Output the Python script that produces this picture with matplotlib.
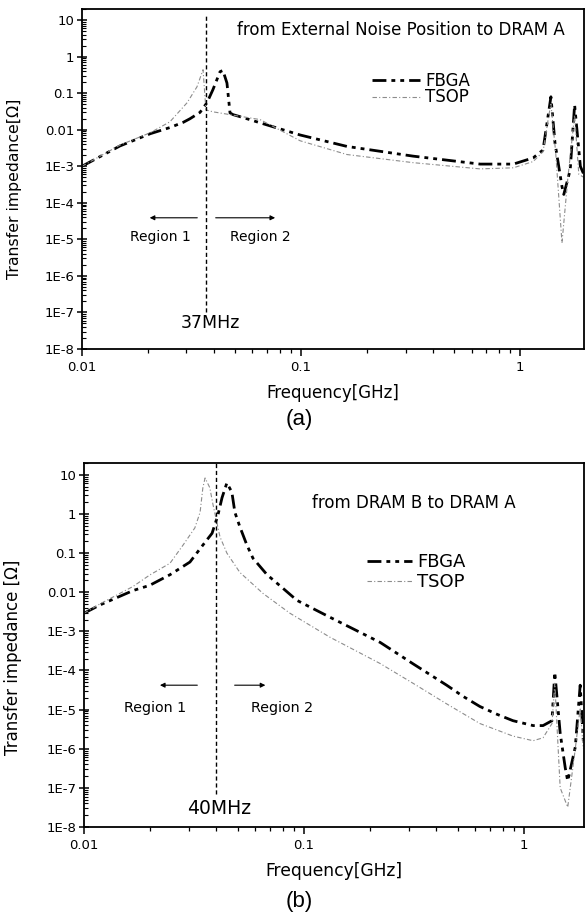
import numpy as np
import matplotlib
matplotlib.use('Agg')
import matplotlib.pyplot as plt
from matplotlib.ticker import FixedLocator, LogLocator, NullFormatter, FuncFormatter

plt.rcParams['font.family'] = ['DejaVu Sans']

# (a) external noise position -> DRAM A
freq_a_fbga = [0.0100, 0.0149, 0.0205, 0.0252, 0.0290, 0.0311, 0.0346, 0.0372, 0.0396,
               0.0427, 0.0440, 0.0459, 0.0474, 0.0489, 0.0552, 0.065, 0.099, 0.162,
               0.324, 0.656, 0.93, 1.145, 1.27, 1.38, 1.44, 1.55, 1.58, 1.69, 1.77,
               1.88, 1.95]
imp_a_fbga = [1.0e-3, 3.6e-3, 7.8e-3, 1.15e-2, 1.6e-2, 2.0e-2, 3.0e-2, 5.5e-2, 1.25e-1,
              3.9e-1, 4.2e-1, 1.9e-1, 2.9e-2, 2.6e-2, 2.1e-2, 1.55e-2, 7.2e-3, 3.5e-3,
              1.9e-3, 1.15e-3, 1.15e-3, 1.7e-3, 2.8e-3, 8.0e-2, 4.4e-3, 2.8e-4, 1.7e-4, 8.0e-4, 4.8e-2,
              1.0e-3, 6.0e-4]

freq_a_tsop = [0.0100, 0.0149, 0.0205, 0.0252, 0.0302, 0.0335, 0.0357, 0.0368, 0.0396,
               0.065, 0.099, 0.162, 0.324, 0.656, 0.93, 1.145, 1.27, 1.35, 1.38,
               1.45, 1.55, 1.65, 1.77, 1.85, 1.95]
imp_a_tsop = [1.0e-3, 3.8e-3, 8.3e-3, 1.65e-2, 5.5e-2, 1.5e-1, 4.4e-1, 3.5e-2, 3.1e-2,
              1.9e-2, 5.0e-3, 2.1e-3, 1.26e-3, 8.5e-4, 9.1e-4, 1.35e-3, 2.5e-3, 2.5e-2, 5.0e-2,
              2.5e-3, 8.0e-6, 5.0e-4, 2.5e-2, 6.0e-4, 5.0e-4]

# (b) DRAM B -> DRAM A
freq_b_fbga = [0.0100, 0.0118, 0.0167, 0.0199, 0.0246, 0.0303, 0.0347, 0.0382, 0.0406,
               0.0424, 0.0446, 0.0470, 0.0485, 0.0511, 0.0550, 0.0586, 0.0679, 0.0802,
               0.0928, 0.131, 0.222, 0.313, 0.445, 0.527, 0.630, 0.753, 0.891, 1.10,
               1.22, 1.34, 1.38, 1.46, 1.54, 1.58, 1.71, 1.80, 1.86]
imp_b_fbga = [2.9e-3, 4.7e-3, 1.1e-2, 1.5e-2, 2.8e-2, 5.9e-2, 1.6e-1, 3.2e-1, 9.3e-1,
              2.6e0, 6.2e0, 3.6e0, 1.1e0, 4.7e-1, 1.6e-1, 7.4e-2, 2.8e-2, 1.26e-2,
              6.2e-3, 2.3e-3, 5.2e-4, 1.48e-4, 4.2e-5, 2.2e-5, 1.2e-5, 7.6e-6, 5.2e-6, 3.9e-6,
              3.9e-6, 5.2e-6, 9.0e-5, 2.5e-6, 3.2e-7, 1.5e-7, 1.1e-6, 4.2e-5, 1.6e-6]

freq_b_tsop = [0.0100, 0.0118, 0.0167, 0.0199, 0.0246, 0.0282, 0.0319, 0.0337, 0.0347,
               0.0355, 0.0373, 0.0386, 0.0415, 0.0446, 0.0511, 0.0651, 0.0863, 0.131,
               0.222, 0.313, 0.445, 0.630, 0.891, 1.10, 1.22, 1.34, 1.38, 1.46,
               1.58, 1.71, 1.80, 1.86]
imp_b_tsop = [2.9e-3, 5.0e-3, 1.4e-2, 2.75e-2, 5.5e-2, 1.6e-1, 4.4e-1, 1.1e0, 4.7e0,
              8.3e0, 4.7e0, 1.7e0, 2.6e-1, 1.0e-1, 3.2e-2, 9.3e-3, 2.9e-3, 7.1e-4,
              1.5e-4, 4.7e-5, 1.4e-5, 4.4e-6, 2.1e-6, 1.6e-6, 1.9e-6, 4.4e-6, 4.7e-5, 1.0e-7,
              3.2e-8, 1.0e-6, 1.1e-5, 1.0e-6]

y_ticks = [10, 1, 0.1, 0.01, 1e-3, 1e-4, 1e-5, 1e-6, 1e-7, 1e-8]
y_tick_labels = ['10', '1', '0.1', '0.01', '1E-3', '1E-4', '1E-5', '1E-6', '1E-7', '1E-8']
x_ticks = [0.01, 0.1, 1]
x_tick_labels = ['0.01', '0.1', '1']

FBGA_STYLE = dict(color='black', lw=2.0, dashes=(5, 1.8, 1.4, 1.8, 1.4, 1.8))
TSOP_STYLE = dict(color='#8c8c8c', lw=0.8, dashes=(4, 2, 1, 2))


def y_label_for(v, pos):
    i = int(np.argmin([abs(np.log10(t) - np.log10(v)) for t in y_ticks]))
    return y_tick_labels[i]


def x_label_for(v, pos):
    return x_tick_labels[int(round(np.log10(v))) + 2]


def style_axes(ax, xmax):
    ax.set_xscale('log')
    ax.set_yscale('log')
    ax.set_xlim(0.01, xmax)
    ax.set_ylim(1e-8, 20)
    ax.yaxis.set_major_locator(FixedLocator(y_ticks))
    ax.yaxis.set_major_formatter(FuncFormatter(y_label_for))
    ax.yaxis.set_minor_locator(LogLocator(base=10, subs=np.arange(2, 10), numticks=20))
    ax.yaxis.set_minor_formatter(NullFormatter())
    ax.xaxis.set_major_locator(FixedLocator(x_ticks))
    ax.xaxis.set_major_formatter(FuncFormatter(x_label_for))
    ax.xaxis.set_minor_locator(LogLocator(base=10, subs=np.arange(2, 10), numticks=20))
    ax.xaxis.set_minor_formatter(NullFormatter())
    ax.tick_params(axis='y', which='major', direction='inout', length=7, width=1.1, labelsize=9.5, pad=2)
    ax.tick_params(axis='y', which='minor', direction='in', length=3, width=0.8)
    ax.tick_params(axis='x', which='major', direction='out', length=5, width=1.1, labelsize=9.5, pad=4)
    ax.tick_params(axis='x', which='minor', direction='out', length=3, width=0.9)
    for s in ax.spines.values():
        s.set_linewidth(1.3)


def arrow(ax, tail, tip, y):
    ax.annotate('', xy=(tip, y), xytext=(tail, y),
                arrowprops=dict(arrowstyle='-|>', lw=0.8, color='black', mutation_scale=7))


fig = plt.figure(figsize=(5.85, 9.16), dpi=100)

# ---- panel (a) ----
ax = fig.add_axes([0.140, 0.619, 0.858, 0.371])
ax.plot(freq_a_fbga, imp_a_fbga, label='FBGA', **FBGA_STYLE)
ax.plot(freq_a_tsop, imp_a_tsop, label='TSOP', **TSOP_STYLE)
style_axes(ax, 1.95)
ax.vlines(0.037, 1e-7, 13, colors='black', lw=1.0, linestyles=(0, (3, 2)))
arrow(ax, 0.0346, 0.0198, 3.9e-5)
arrow(ax, 0.0396, 0.0784, 3.9e-5)
ax.text(0.0229, 1.18e-5, 'Region 1', ha='center', va='center', fontsize=10)
ax.text(0.0649, 1.18e-5, 'Region 2', ha='center', va='center', fontsize=10)
ax.text(0.0384, 5.1e-8, '37MHz', ha='center', va='center', fontsize=12.5)
ax.text(0.309, 0.938, 'from External Noise Position to DRAM A', transform=ax.transAxes,
        ha='left', va='center', fontsize=12)
ax.legend(loc='upper left', bbox_to_anchor=(0.578, 0.815), frameon=False, fontsize=12,
          handlelength=2.9, handletextpad=0.3, labelspacing=-0.1, borderpad=0, borderaxespad=0)
ax.set_xlabel('Frequency[GHz]', fontsize=12)
ax.xaxis.set_label_coords(0.5, -0.103)
ax.set_ylabel('Transfer impedance[Ω]', fontsize=11.3)
ax.yaxis.set_label_coords(-0.12, 0.47)
fig.text(0.511, 0.5415, '(a)', ha='center', va='center', fontsize=16, family='Liberation Sans')

# ---- panel (b) ----
ax = fig.add_axes([0.1436, 0.0972, 0.8544, 0.3973])
ax.plot(freq_b_fbga, imp_b_fbga, label='FBGA', **FBGA_STYLE)
ax.plot(freq_b_tsop, imp_b_tsop, label='TSOP', **TSOP_STYLE)
style_axes(ax, 1.87)
ax.vlines(0.040, 7e-8, 20, colors='black', lw=1.0, linestyles=(0, (3, 2)))
arrow(ax, 0.0337, 0.0215, 4.2e-5)
arrow(ax, 0.047, 0.0687, 4.2e-5)
ax.text(0.0210, 1.12e-5, 'Region 1', ha='center', va='center', fontsize=10.3)
ax.text(0.0794, 1.12e-5, 'Region 2', ha='center', va='center', fontsize=10.3)
ax.text(0.0411, 2.9e-8, '40MHz', ha='center', va='center', fontsize=13.5)
ax.text(0.456, 0.890, 'from DRAM B to DRAM A', transform=ax.transAxes,
        ha='left', va='center', fontsize=12)
ax.legend(loc='upper left', bbox_to_anchor=(0.566, 0.752), frameon=False, fontsize=13,
          handlelength=2.5, handletextpad=0.27, labelspacing=0.1, borderpad=0, borderaxespad=0)
ax.set_xlabel('Frequency[GHz]', fontsize=12.3)
ax.xaxis.set_label_coords(0.5, -0.095)
ax.set_ylabel('Transfer impedance [Ω]', fontsize=12)
ax.yaxis.set_label_coords(-0.125, 0.465)
fig.text(0.511, 0.0153, '(b)', ha='center', va='center', fontsize=16, family='Liberation Sans')

fig.savefig('out.png', dpi=100)
